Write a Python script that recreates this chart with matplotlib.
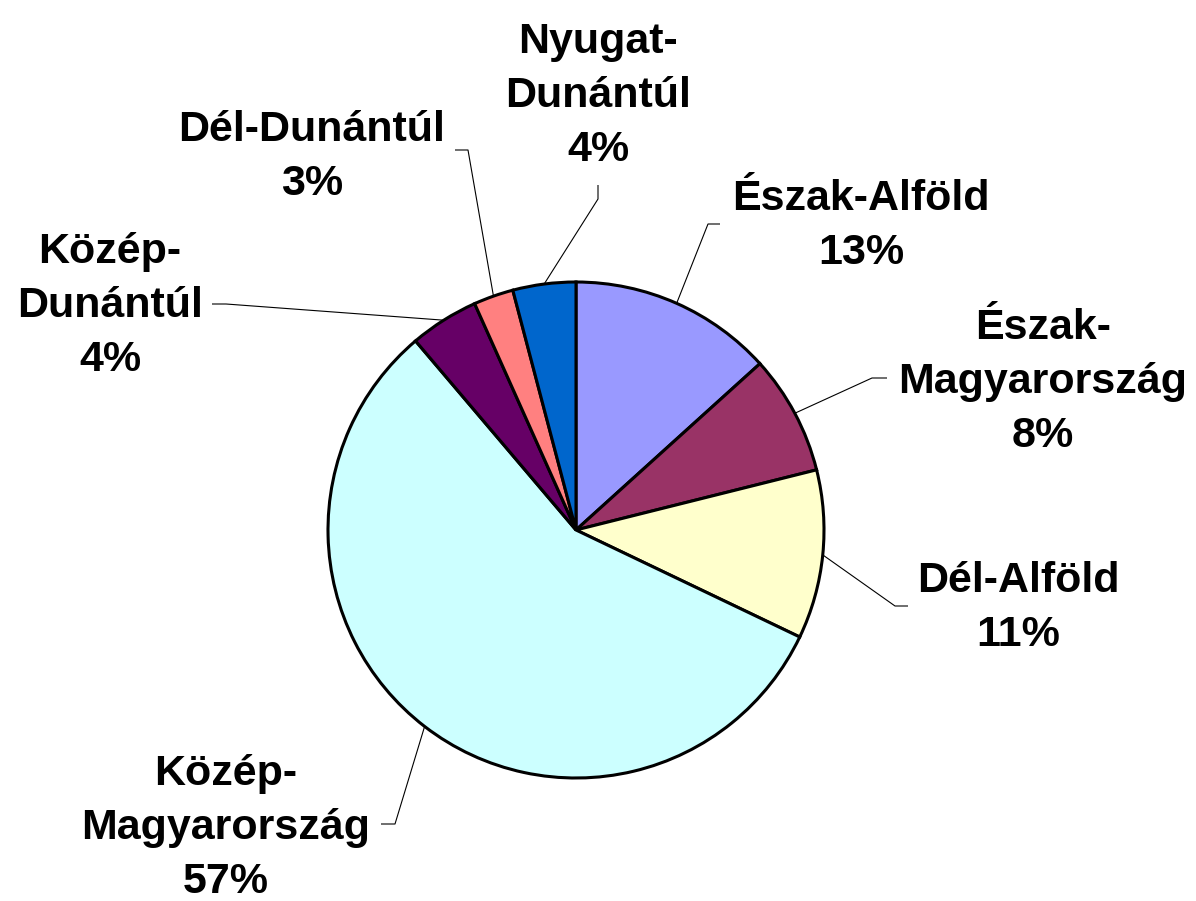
import numpy as np
import matplotlib
matplotlib.use("Agg")
import matplotlib.pyplot as plt

plt.rc("font", family="Liberation Sans", weight="bold", size=31)

regions = ["Észak-Alföld", "Észak-\nMagyarország", "Dél-Alföld",
           "Közép-\nMagyarország", "Közép-\nDunántúl", "Dél-Dunántúl",
           "Nyugat-\nDunántúl"]
shares = [13.3, 7.8, 11.0, 56.7, 4.5, 2.6, 4.1]
pct_labels = ["13%", "8%", "11%", "57%", "4%", "3%", "4%"]
colors = ["#9999FF", "#993366", "#FFFFCC", "#CCFFFF", "#660066",
          "#FF8080", "#0066CC"]

W, H = 1196, 901
fig = plt.figure(figsize=(W / 100, H / 100), dpi=100)
ax = fig.add_axes([0, 0, 1, 1])
ax.set_xlim(0, W)
ax.set_ylim(0, H)
ax.set_aspect("equal")
ax.axis("off")

cx, cy, r = 576, H - 530, 248
wedges, _ = ax.pie(shares, colors=colors, startangle=90, counterclock=False,
                   center=(cx, cy), radius=r,
                   wedgeprops=dict(edgecolor="black", linewidth=2.2))
ax.set_xlim(0, W)
ax.set_ylim(0, H)

# label centre (pixel coords, y down) and leader path: elbow, end
label_pos = [(861, 226), (1043, 382), (1018, 608), (226, 828),
             (110, 306), (312, 157), (598, 96)]
leader = [((708, 224), (720, 224)), ((872, 378), (887, 378)),
          ((895, 606), (908, 606)), ((395, 824), (381, 824)),
          ((226, 304), (212, 304)), ((468, 150), (455, 150)),
          ((598, 199), (598, 185))]

for w, lab, pct, (lx, ly), (elb, end) in zip(wedges, regions, pct_labels,
                                               label_pos, leader):
    mid = np.deg2rad((w.theta1 + w.theta2) / 2)
    sx, sy = cx + r * np.cos(mid), cy + r * np.sin(mid)
    ax.plot([sx, elb[0], end[0]], [sy, H - elb[1], H - end[1]],
            color="black", lw=0.8, solid_capstyle="butt")
    ax.text(lx, H - ly, lab + "\n" + pct, ha="center", va="center",
            linespacing=1.45)

fig.savefig("out.png", dpi=100)
